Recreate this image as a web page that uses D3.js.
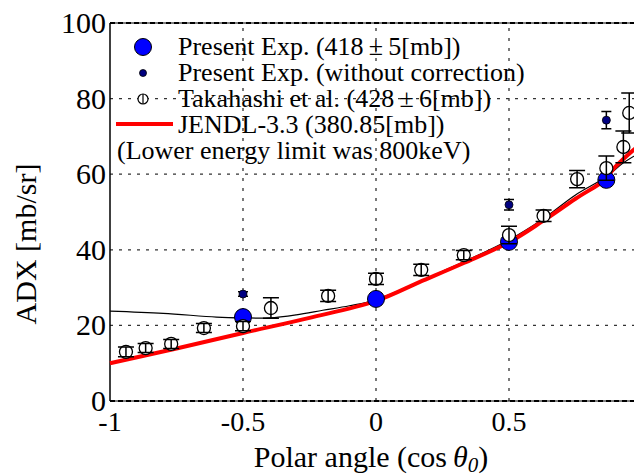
<!DOCTYPE html>
<html>
<head>
<meta charset="utf-8">
<script src="https://cdn.jsdelivr.net/npm/d3@7"></script>
<style>
  body { margin: 0; background: #fff; }
  svg text { font-family: "Liberation Serif", "DejaVu Serif", serif; fill: #000; }
</style>
</head>
<body>
<svg id="chart" width="634" height="475" font-family="Liberation Serif, DejaVu Serif, serif"></svg>
<script>
// ---- data ----
var presentX = [-0.5, 0, 0.5, 0.866];
var presentY = [22.2, 27.0, 42.1, 58.5];

var rawX = [-0.5, 0.5, 0.866];
var rawY = [28.3, 51.9, 74.3];
var rawErr = [0.6, 1.4, 2.3];

var takX = [-0.94, -0.866, -0.77, -0.647, -0.5, -0.395, -0.18, 0, 0.17, 0.33, 0.5, 0.63, 0.756, 0.866, 0.93, 0.952];
var takY = [13.0, 14.0, 15.1, 19.3, 19.8, 24.6, 27.8, 32.3, 34.7, 38.6, 43.9, 49.0, 58.7, 61.6, 67.2, 76.2];
var takErr = [1.3, 1.2, 1.2, 1.2, 1.2, 2.7, 1.5, 1.5, 1.5, 1.2, 2.3, 1.5, 2.3, 3.2, 4.2, 5.3];

var jendlX = [-1, -0.75, -0.5, -0.25, 0, 0.165, 0.33, 0.5, 0.625, 0.75, 0.866, 0.89, 0.93, 0.97, 1];
var jendlY = [10.0, 13.9, 18.0, 22.0, 26.5, 31.5, 36.5, 42.0, 47.5, 53.5, 58.8, 61.2, 64.0, 66.5, 68.0];

var calcX = [-1, -0.8, -0.6, -0.5, -0.4, -0.3, -0.2, -0.1, 0, 0.25, 0.5, 0.625, 0.75, 0.866, 0.93, 1];
var calcY = [23.8, 23.2, 22.2, 22.0, 22.0, 22.8, 24.0, 25.2, 26.8, 34.3, 42.6, 48.0, 54.5, 59.3, 63.0, 66.0];

var xTicks = [-1, -0.5, 0, 0.5];
var xTickLabels = ["-1", "-0.5", "0", "0.5"];
var yTicks = [0, 20, 40, 60, 80, 100];
var xGrid = [-0.5, 0, 0.5];
var yGrid = [20, 40, 60, 80];

var svg = d3.select("#chart");

var x = d3.scaleLinear().domain([-1, 1]).range([110, 642]);
var y = d3.scaleLinear().domain([0, 100]).range([401, 23]);

// grid
svg.append("g").selectAll("line")
  .data(yGrid).enter().append("line")
  .attr("x1", x(-1)).attr("x2", x(1))
  .attr("y1", function (d) { return y(d); }).attr("y2", function (d) { return y(d); })
  .attr("stroke", "#333").attr("stroke-width", 1.3).attr("stroke-dasharray", "3,6");

svg.append("g").selectAll("line")
  .data(xGrid).enter().append("line")
  .attr("x1", function (d) { return x(d); }).attr("x2", function (d) { return x(d); })
  .attr("y1", y(0)).attr("y2", y(100))
  .attr("stroke", "#333").attr("stroke-width", 1.3).attr("stroke-dasharray", "3,7");

// frame
svg.append("line").attr("x1", x(-1)).attr("x2", x(-1)).attr("y1", y(0)).attr("y2", y(100))
  .attr("stroke", "#000").attr("stroke-width", 1.5);
[0, 100].forEach(function (v) {
  svg.append("line").attr("x1", x(-1)).attr("x2", 634).attr("y1", y(v)).attr("y2", y(v))
    .attr("stroke", "#000").attr("stroke-width", 1);
  svg.append("line").attr("x1", x(-1)).attr("x2", 634).attr("y1", y(v)).attr("y2", y(v))
    .attr("stroke", "#000").attr("stroke-width", 2).attr("stroke-dasharray", "5,3");
});

// lines
var line = d3.line()
  .x(function (d) { return x(d[0]); })
  .y(function (d) { return y(d[1]); })
  .curve(d3.curveCatmullRom);

svg.append("path").datum(d3.zip(calcX, calcY))
  .attr("d", line).attr("fill", "none").attr("stroke", "#000").attr("stroke-width", 1.2);

svg.append("path").datum(d3.zip(jendlX, jendlY))
  .attr("d", line).attr("fill", "none").attr("stroke", "#ff0000").attr("stroke-width", 4);

// present exp.
svg.append("g").selectAll("circle")
  .data(d3.zip(presentX, presentY)).enter().append("circle")
  .attr("cx", function (d) { return x(d[0]); })
  .attr("cy", function (d) { return y(d[1]); })
  .attr("r", 8.5).attr("fill", "#0000ff").attr("stroke", "#000").attr("stroke-width", 1);

// error bar helper
function errbars(g, data, cap) {
  g.selectAll("path.eb")
    .data(data).enter().append("path")
    .attr("class", "eb")
    .attr("d", function (d) {
      var cx = x(d[0]), lo = y(d[1] - d[2]), hi = y(d[1] + d[2]);
      return "M" + cx + "," + lo + "V" + hi +
        "M" + (cx - cap) + "," + lo + "H" + (cx + cap) +
        "M" + (cx - cap) + "," + hi + "H" + (cx + cap);
    })
    .attr("fill", "none").attr("stroke", "#000").attr("stroke-width", 1.5);
}

// without correction
var gRaw = svg.append("g");
errbars(gRaw, d3.zip(rawX, rawY, rawErr), 5);
gRaw.selectAll("circle")
  .data(d3.zip(rawX, rawY)).enter().append("circle")
  .attr("cx", function (d) { return x(d[0]); })
  .attr("cy", function (d) { return y(d[1]); })
  .attr("r", 4).attr("fill", "#000080").attr("stroke", "#000").attr("stroke-width", 0.8);

// Takahashi
var gTak = svg.append("g");
gTak.selectAll("circle")
  .data(d3.zip(takX, takY)).enter().append("circle")
  .attr("cx", function (d) { return x(d[0]); })
  .attr("cy", function (d) { return y(d[1]); })
  .attr("r", 6.5).attr("fill", "#fff").attr("stroke", "#000").attr("stroke-width", 1.3);
errbars(gTak, d3.zip(takX, takY, takErr), 8);

// axes labels
svg.append("g").selectAll("text")
  .data(yTicks).enter().append("text")
  .attr("x", 106).attr("y", function (d) { return y(d) + 10; })
  .attr("text-anchor", "end").attr("font-size", 30)
  .text(function (d) { return d; });

svg.append("g").selectAll("text")
  .data(xTicks).enter().append("text")
  .attr("x", function (d) { return x(d); }).attr("y", 431)
  .attr("text-anchor", "middle").attr("font-size", 28)
  .text(function (d, i) { return xTickLabels[i]; });

var xt = svg.append("text").attr("x", 371).attr("y", 467)
  .attr("text-anchor", "middle").attr("font-size", 30);
xt.append("tspan").text("Polar angle (cos\u2009");
xt.append("tspan").attr("font-style", "italic").text("θ");
xt.append("tspan").attr("font-style", "italic").attr("font-size", 21).attr("dy", 5).text("0");
xt.append("tspan").attr("dy", -5).text(")");

svg.append("text")
  .attr("transform", "translate(36,244) rotate(-90)")
  .attr("text-anchor", "middle").attr("font-size", 30)
  .text("ADX [mb/sr]");

// legend
var lx = 143, tx = 178;
var rows = [55, 81, 107, 133, 159];
svg.append("circle").attr("cx", lx).attr("cy", rows[0] - 8).attr("r", 8.5)
  .attr("fill", "#0000ff").attr("stroke", "#000");
svg.append("circle").attr("cx", lx).attr("cy", rows[1] - 8).attr("r", 3.5)
  .attr("fill", "#000080").attr("stroke", "#000").attr("stroke-width", 0.8);
svg.append("circle").attr("cx", lx).attr("cy", rows[2] - 8).attr("r", 5)
  .attr("fill", "#fff").attr("stroke", "#000").attr("stroke-width", 1.2);
svg.append("line").attr("x1", lx).attr("x2", lx).attr("y1", rows[2] - 13).attr("y2", rows[2] - 3)
  .attr("stroke", "#000").attr("stroke-width", 1.2);
svg.append("line").attr("x1", 116).attr("x2", 173).attr("y1", rows[3] - 9).attr("y2", rows[3] - 9)
  .attr("stroke", "#ff0000").attr("stroke-width", 4);

var legendText = ["Present Exp. (418\u2009±\u20095[mb])", "Present Exp. (without correction)",
  "Takahashi et al. (428\u2009±\u20096[mb])", "JENDL-3.3 (380.85[mb])"];
svg.append("g").selectAll("text")
  .data(legendText).enter().append("text")
  .attr("x", tx).attr("y", function (d, i) { return rows[i]; })
  .attr("font-size", 26)
  .text(function (d) { return d; });
svg.append("text").attr("x", 117).attr("y", rows[4]).attr("font-size", 26)
  .text("(Lower energy limit was 800keV)");
</script>
</body>
</html>
